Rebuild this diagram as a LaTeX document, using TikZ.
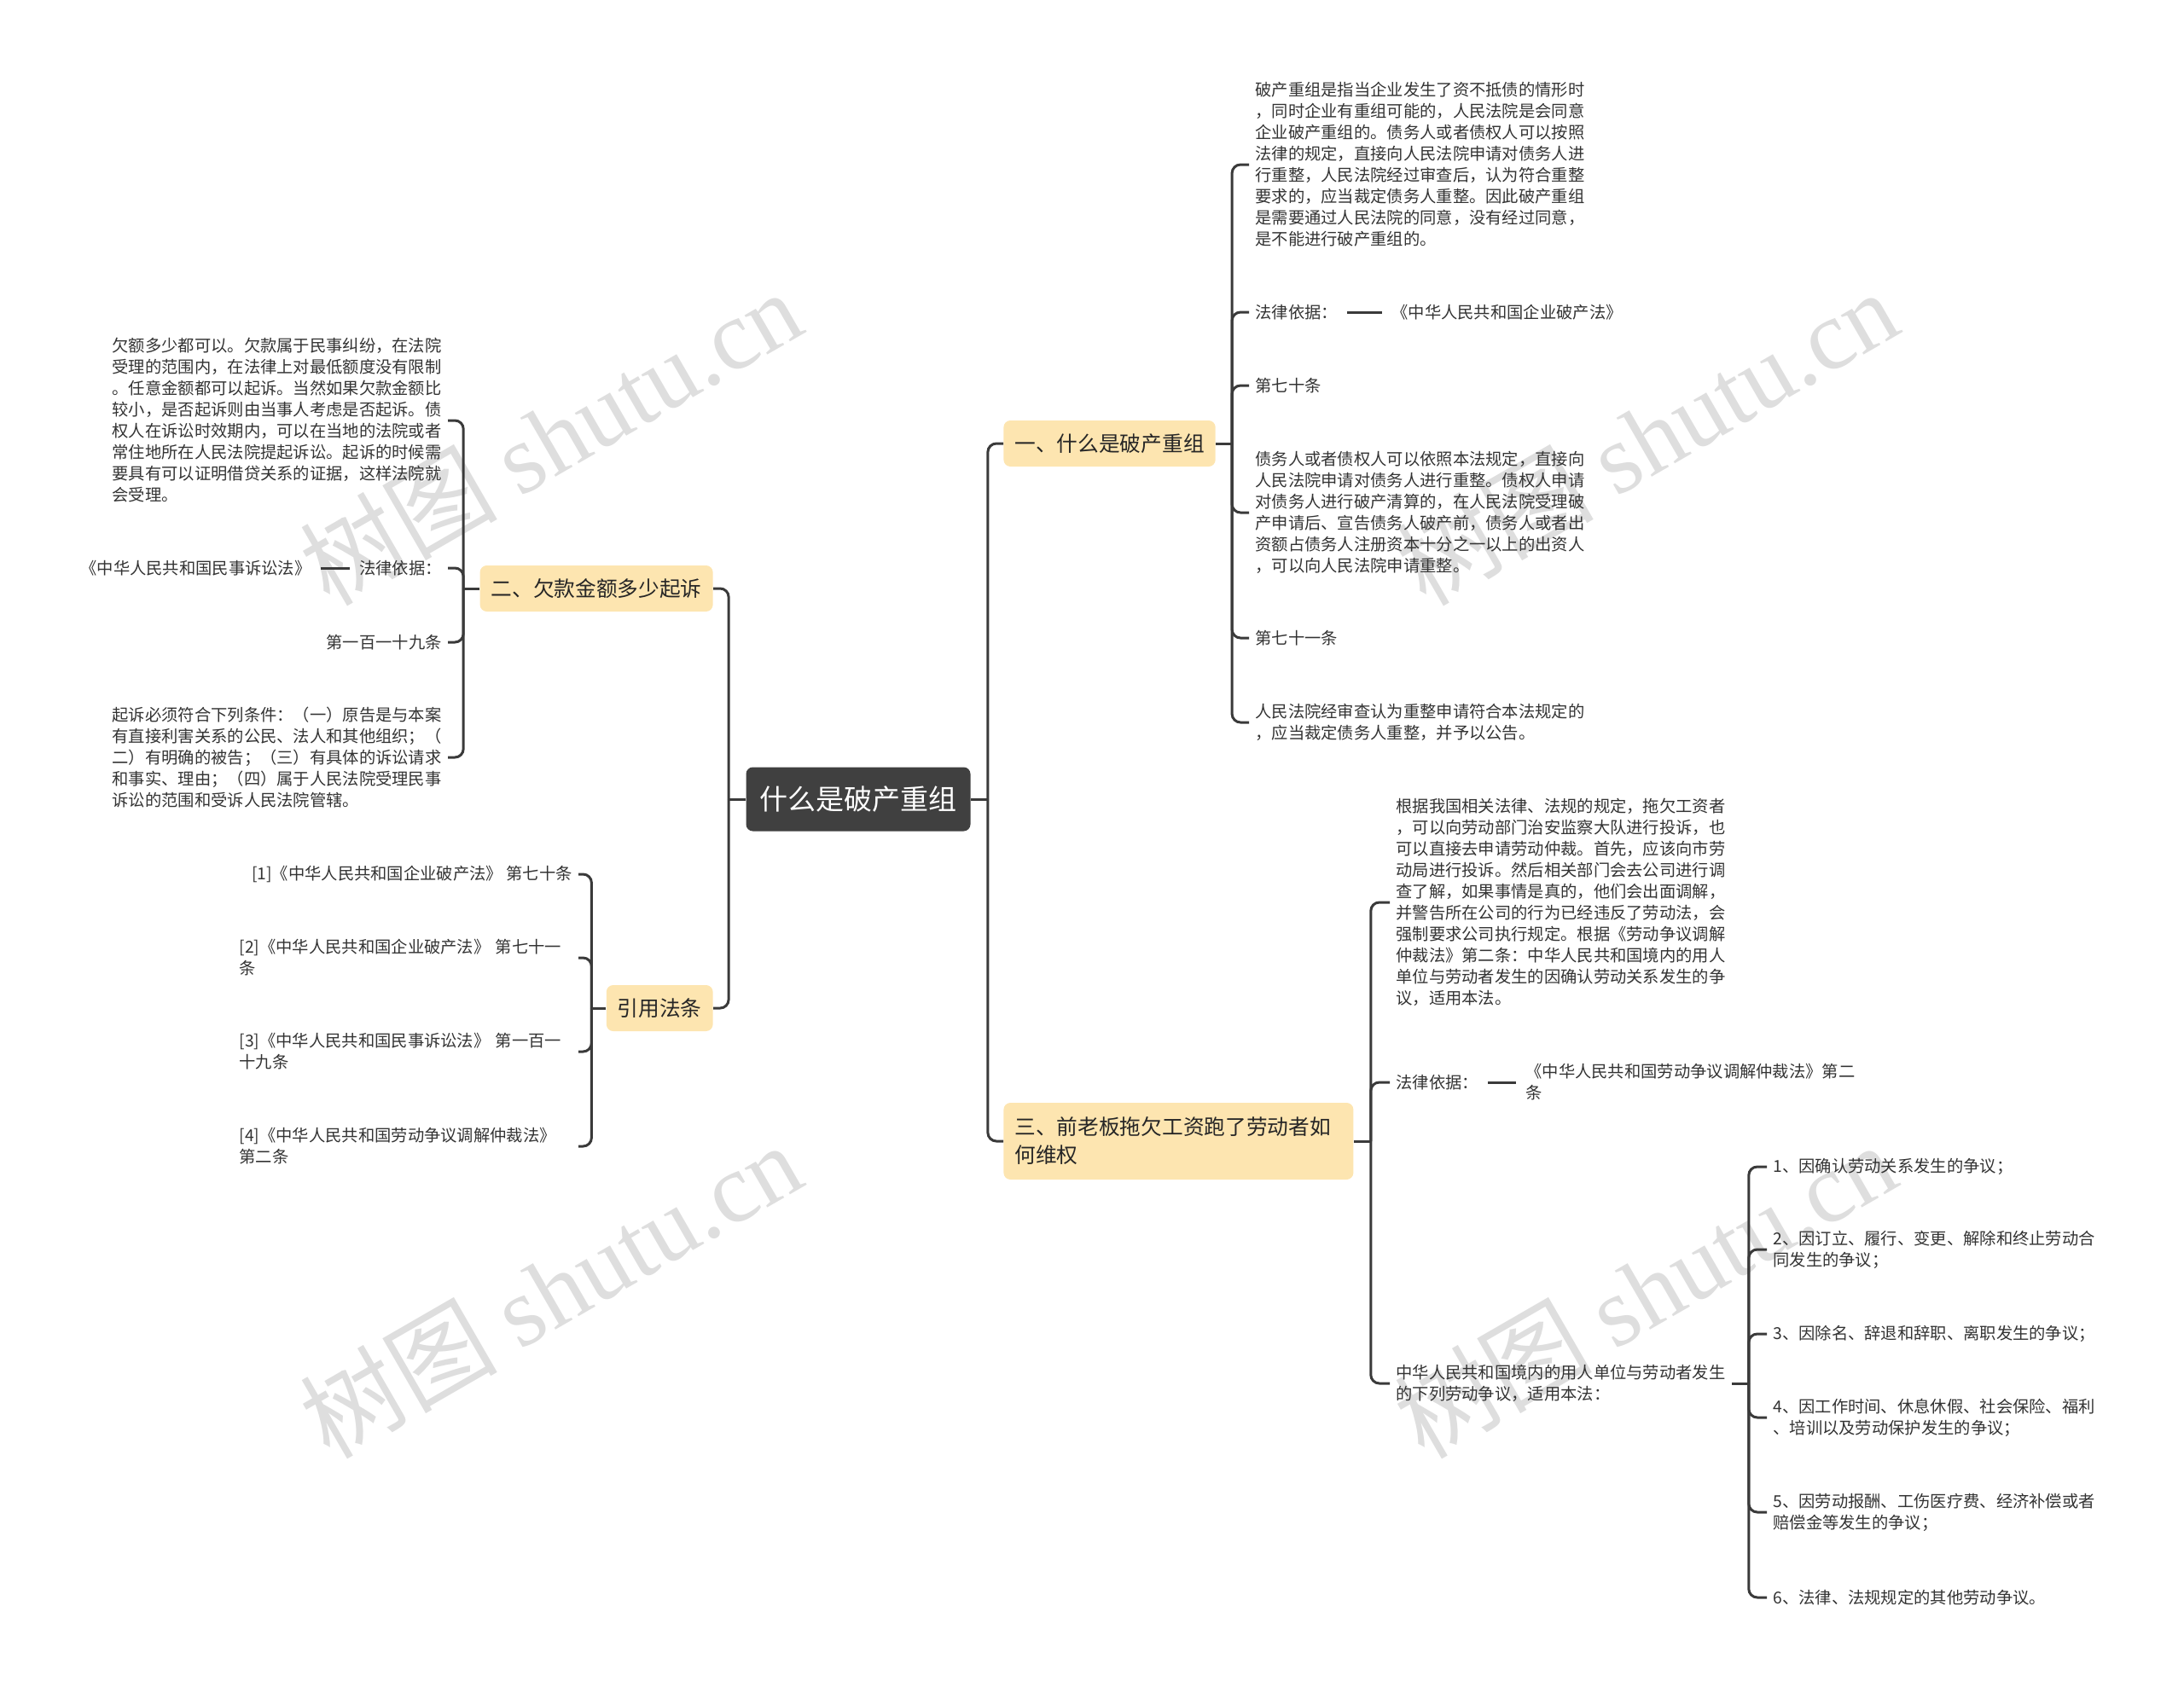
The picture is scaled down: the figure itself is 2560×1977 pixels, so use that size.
\documentclass[tikz,border=0pt]{standalone}
\usepackage{fontspec}
\setmainfont{Noto Sans CJK SC}
\newfontfamily\wmserif{Liberation Serif}

\definecolor{rootgray}{RGB}{64,64,64}
\definecolor{topicyel}{RGB}{253,229,176}
\definecolor{linegray}{RGB}{58,58,58}
\definecolor{textgray}{RGB}{51,51,51}
\definecolor{wmgray}{RGB}{222,222,222}
\tikzset{mmap/.style={x=0.5pt,y=-0.5pt},
  rootbox/.style={fill=rootgray,text=white,rounded corners=4pt,inner xsep=8pt,minimum height=37.5pt,font=\fontsize{16.5}{20}\selectfont},
  topic/.style={fill=topicyel,text=black!85,rounded corners=4pt,inner xsep=6.5pt,minimum height=27pt,align=left,font=\fontsize{12.35}{16.5}\selectfont},
  leaf/.style={text=textgray,inner xsep=3.5pt,inner ysep=1pt,align=left,font=\fontsize{9.65}{12.5}\selectfont},
  link/.style={draw=linegray,line width=1.5pt,rounded corners=5pt},
  wmark/.style={text=wmgray,rotate=30,font=\fontsize{58}{60}\selectfont}}

\begin{document}
\begin{tikzpicture}[mmap]
    \useasboundingbox (0,0) rectangle (2560,1977);
    % watermarks
    \foreach \wx/\wy [count=\i] in {645/512,645/1512,1930/512,1928/1512}
      \node[wmark] (wm\i) at (\wx,\wy) {树图 {\wmserif shutu.cn}};

    \node[rootbox] (root) at (1006,937) {什么是破产重组};
    \node[topic,anchor=west] (t1) at (1176,520) {一、什么是破产重组};
    \node[topic,anchor=west,text width=192pt,minimum height=45pt] (t3) at (1176,1338) {三、前老板拖欠工资跑了劳动者如\\何维权};
    \node[topic,anchor=east] (t2) at (836,690) {二、欠款金额多少起诉};
    \node[topic,anchor=east] (t4) at (836,1182) {引用法条};
    \draw[link] (root.east) -- ++(20,0) coordinate (rj);
    \foreach \t in {t1,t3} \draw[link] (rj) |- (\t.west);
    \draw[link] (root.west) -- ++(-20,0) coordinate (lj);
    \foreach \t in {t2,t4} \draw[link] (lj) |- (\t.east);

    % 一
    \node[leaf,anchor=west] (a1) at (1464,193) {破产重组是指当企业发生了资不抵债的情形时\\，同时企业有重组可能的，人民法院是会同意\\企业破产重组的。债务人或者债权人可以按照\\法律的规定，直接向人民法院申请对债务人进\\行重整，人民法院经过审查后，认为符合重整\\要求的，应当裁定债务人重整。因此破产重组\\是需要通过人民法院的同意，没有经过同意，\\是不能进行破产重组的。};
    \node[leaf,anchor=west] (a2) at (1464,366) {法律依据：};
    \node[leaf,anchor=west] (a2law) at (1624,366) {《中华人民共和国企业破产法》};
    \node[leaf,anchor=west] (a3) at (1464,452) {第七十条};
    \node[leaf,anchor=west] (a4) at (1464,601) {债务人或者债权人可以依照本法规定，直接向\\人民法院申请对债务人进行重整。债权人申请\\对债务人进行破产清算的，在人民法院受理破\\产申请后、宣告债务人破产前，债务人或者出\\资额占债务人注册资本十分之一以上的出资人\\，可以向人民法院申请重整。};
    \node[leaf,anchor=west] (a5) at (1464,748) {第七十一条};
    \node[leaf,anchor=west] (a6) at (1464,847) {人民法院经审查认为重整申请符合本法规定的\\，应当裁定债务人重整，并予以公告。};
    \draw[link] (t1.east) -- ++(19,0) coordinate (j1);
    \foreach \l in {a1,a2,a3,a4,a5,a6} \draw[link] (j1) |- (\l.west);
    \draw[link,shorten <=2pt,shorten >=2pt] (a2.east) -- (a2law.west);

    % 三
    \node[leaf,anchor=west] (c1) at (1629,1058) {根据我国相关法律、法规的规定，拖欠工资者\\，可以向劳动部门治安监察大队进行投诉，也\\可以直接去申请劳动仲裁。首先，应该向市劳\\动局进行投诉。然后相关部门会去公司进行调\\查了解，如果事情是真的，他们会出面调解，\\并警告所在公司的行为已经违反了劳动法，会\\强制要求公司执行规定。根据《劳动争议调解\\仲裁法》第二条：中华人民共和国境内的用人\\单位与劳动者发生的因确认劳动关系发生的争\\议，适用本法。};
    \node[leaf,anchor=west] (c2) at (1629,1269) {法律依据：};
    \node[leaf,anchor=west] (c2law) at (1781,1269) {《中华人民共和国劳动争议调解仲裁法》第二\\条};
    \node[leaf,anchor=west] (c3) at (1629,1622) {中华人民共和国境内的用人单位与劳动者发生\\的下列劳动争议，适用本法：};
    \draw[link] (t3.east) -- ++(20,0) coordinate (j3);
    \foreach \l in {c1,c2,c3} \draw[link] (j3) |- (\l.west);
    \draw[link,shorten <=2pt,shorten >=2pt] (c2.east) -- (c2law.west);

    \node[leaf,anchor=west] (d1) at (2071,1368) {1、因确认劳动关系发生的争议；};
    \node[leaf,anchor=west] (d2) at (2071,1465) {2、因订立、履行、变更、解除和终止劳动合\\同发生的争议；};
    \node[leaf,anchor=west] (d3) at (2071,1564) {3、因除名、辞退和辞职、离职发生的争议；};
    \node[leaf,anchor=west] (d4) at (2071,1662) {4、因工作时间、休息休假、社会保险、福利\\、培训以及劳动保护发生的争议；};
    \node[leaf,anchor=west] (d5) at (2071,1773) {5、因劳动报酬、工伤医疗费、经济补偿或者\\赔偿金等发生的争议；};
    \node[leaf,anchor=west] (d6) at (2071,1873) {6、法律、法规规定的其他劳动争议。};
    \draw[link] (c3.east) -- ++(20,0) coordinate (j4);
    \foreach \l in {d1,d2,d3,d4,d5,d6} \draw[link] (j4) |- (\l.west);

    % 二
    \node[leaf,anchor=east] (b1) at (525,493) {欠额多少都可以。欠款属于民事纠纷，在法院\\受理的范围内，在法律上对最低额度没有限制\\。任意金额都可以起诉。当然如果欠款金额比\\较小，是否起诉则由当事人考虑是否起诉。债\\权人在诉讼时效期内，可以在当地的法院或者\\常住地所在人民法院提起诉讼。起诉的时候需\\要具有可以证明借贷关系的证据，这样法院就\\会受理。};
    \node[leaf,anchor=east] (b2) at (525,666) {法律依据：};
    \node[leaf,anchor=east] (b2law) at (372,666) {《中华人民共和国民事诉讼法》};
    \node[leaf,anchor=east] (b3) at (525,753) {第一百一十九条};
    \node[leaf,anchor=east] (b4) at (525,888) {起诉必须符合下列条件：（一）原告是与本案\\有直接利害关系的公民、法人和其他组织；（\\二）有明确的被告；（三）有具体的诉讼请求\\和事实、理由；（四）属于人民法院受理民事\\诉讼的范围和受诉人民法院管辖。};
    \draw[link] (t2.west) -- ++(-19,0) coordinate (j2);
    \foreach \l in {b1,b2,b3,b4} \draw[link] (j2) |- (\l.east);
    \draw[link,shorten <=2pt,shorten >=2pt] (b2.west) -- (b2law.east);

    % 引用法条
    \node[leaf,anchor=east] (r1) at (678,1025) {[1]《中华人民共和国企业破产法》 第七十条};
    \node[leaf,anchor=east,text width=195pt] (r2) at (678,1123) {[2]《中华人民共和国企业破产法》 第七十一\\条};
    \node[leaf,anchor=east,text width=195pt] (r3) at (678,1233) {[3]《中华人民共和国民事诉讼法》 第一百一\\十九条};
    \node[leaf,anchor=east,text width=195pt] (r4) at (678,1344) {[4]《中华人民共和国劳动争议调解仲裁法》\\第二条};
    \draw[link] (t4.west) -- ++(-17,0) coordinate (j5);
    \foreach \l in {r1,r2,r3,r4} \draw[link] (j5) |- (\l.east);
  \end{tikzpicture}
\end{document}
